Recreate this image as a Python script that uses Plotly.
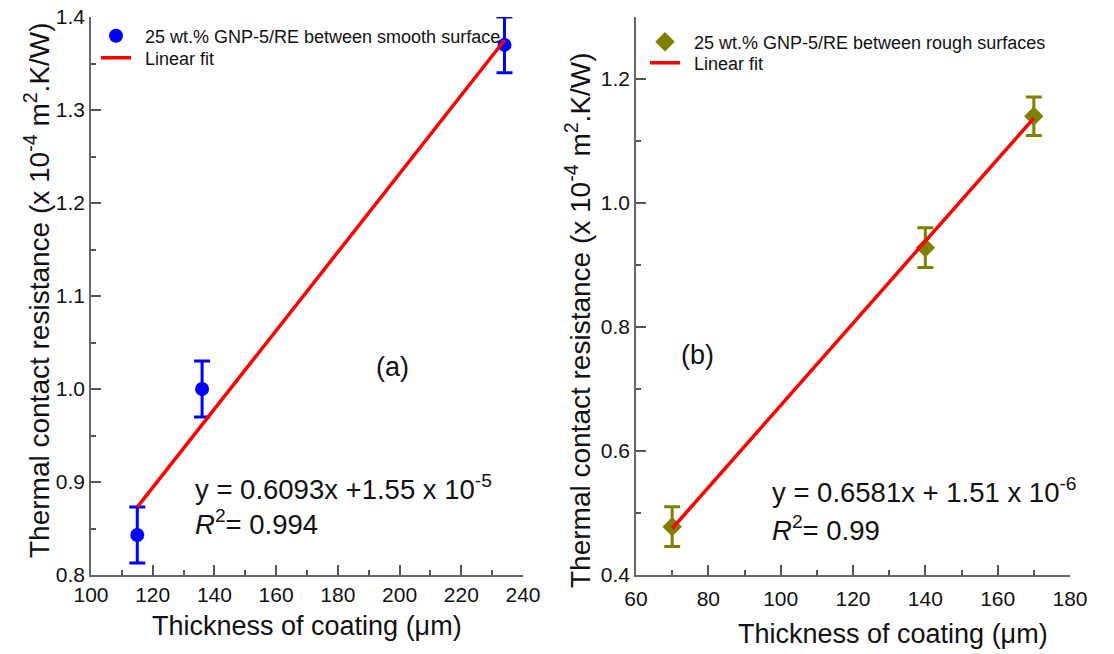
import plotly.graph_objects as go

W, H = 1114, 654

# Panel (a): smooth surfaces
a_x = [115, 136, 234]
a_y = [0.843, 1.000, 1.370]
a_err = [0.030, 0.030, 0.030]
a_fit_x = [115, 234]
a_fit_y = [0.873, 1.375]

# Panel (b): rough surfaces
b_x = [70, 140, 170]
b_y = [0.478, 0.928, 1.140]
b_err = [0.032, 0.032, 0.031]
b_fit_x = [70, 170]
b_fit_y = [0.475, 1.137]

a_name = "25 wt.% GNP-5/RE between smooth surface"
b_name = "25 wt.% GNP-5/RE between rough surfaces"
fit_name = "Linear fit"
ytitle = "Thermal contact resistance (x 10<sup>-4</sup> m<sup>2</sup>.K/W)"
xtitle = "Thickness of coating (\u03bcm)"

FONT = "Liberation Sans, Arial, sans-serif"
PAD = "\u2002"  # en space: gap between legend symbol and text

def px(x):
    return x / W

def py(y):
    return 1 - y / H

fig = go.Figure()

fig.add_trace(go.Scatter(
    x=a_x, y=a_y, mode="markers", name=PAD + a_name,
    marker=dict(color="#0000FF", size=14, symbol="circle"),
    error_y=dict(type="data", array=a_err, color="#0000FF", thickness=3, width=8),
    xaxis="x", yaxis="y", legend="legend", cliponaxis=False,
))
fig.add_trace(go.Scatter(
    x=a_fit_x, y=a_fit_y, mode="lines", name=PAD + fit_name,
    line=dict(color="#FF0000", width=3.5),
    xaxis="x", yaxis="y", legend="legend2", cliponaxis=False,
))
fig.add_trace(go.Scatter(
    x=b_x, y=b_y, mode="markers", name=PAD + b_name,
    marker=dict(color="#808000", size=15, symbol="diamond"),
    error_y=dict(type="data", array=b_err, color="#808000", thickness=3, width=8),
    xaxis="x2", yaxis="y2", legend="legend3", cliponaxis=False,
))
fig.add_trace(go.Scatter(
    x=b_fit_x, y=b_fit_y, mode="lines", name=PAD + fit_name,
    line=dict(color="#FF0000", width=3.5),
    xaxis="x2", yaxis="y2", legend="legend4", cliponaxis=False,
))

axis_common = dict(
    showline=True, linecolor="#666666", linewidth=1.5,
    ticks="inside", ticklen=10, tickwidth=1.5, tickcolor="#555555",
    showgrid=False, zeroline=False, mirror=False, automargin=False,
    tickfont=dict(family=FONT, size=21, color="#111111"),
)

ybot, ytop = py(575), py(17)

def leg(x, y):
    return dict(x=px(x), y=py(y), xanchor="left", yanchor="middle",
                bgcolor="rgba(0,0,0,0)", borderwidth=0,
                font=dict(family=FONT, size=18, color="#111111"),
                tracegroupgap=0, itemwidth=30)

fig.update_layout(
    width=W, height=H,
    margin=dict(l=0, r=0, t=0, b=0, autoexpand=False),
    paper_bgcolor="white", plot_bgcolor="white",
    font=dict(family=FONT, color="#111111"),
    xaxis=dict(domain=[px(91), px(523)], range=[100, 240], dtick=20,
               minor=dict(ticks="inside", ticklen=5, dtick=10, tickcolor="#555555", tickwidth=1.5),
               anchor="y", **axis_common),
    yaxis=dict(domain=[ybot, ytop], range=[0.8, 1.4], dtick=0.1, tickformat=".1f",
               minor=dict(ticks="inside", ticklen=5, dtick=0.05, tickcolor="#555555", tickwidth=1.5),
               anchor="x", **axis_common),
    xaxis2=dict(domain=[px(636), px(1070)], range=[60, 180], dtick=20,
                minor=dict(ticks="inside", ticklen=5, dtick=10, tickcolor="#555555", tickwidth=1.5),
                anchor="y2", ticklabelstandoff=4, **axis_common),
    yaxis2=dict(domain=[ybot, ytop], range=[0.4, 1.3], dtick=0.2, tickformat=".1f",
                minor=dict(ticks="inside", ticklen=5, dtick=0.1, tickcolor="#555555", tickwidth=1.5),
                anchor="x2", **axis_common),
    legend=leg(96, 36),
    legend2=leg(96, 58),
    legend3=leg(645, 42),
    legend4=leg(645, 63),
    showlegend=True,
)

ann = []
def add(text, x, y, size, xanchor="center", angle=0):
    ann.append(dict(text=text, x=px(x), y=py(y), xref="paper", yref="paper",
                    xanchor=xanchor, yanchor="middle", showarrow=False, textangle=angle,
                    font=dict(family=FONT, size=size, color="#111111")))

add(ytitle, 37, 290, 28, angle=-90)
add(ytitle, 578, 320, 28, angle=-90)
add(xtitle, 307, 626, 27)
add(xtitle, 893, 634, 27)
add("(a)", 392, 367, 27)
add("(b)", 697, 355, 27)
add("y = 0.6093x +1.55 x 10<sup>-5</sup>", 193, 487, 27.5, xanchor="left")
add("<i>R</i><sup>2</sup>= 0.994", 193, 522, 27.5, xanchor="left")
add("y = 0.6581x + 1.51 x 10<sup>-6</sup>", 770, 490, 27.5, xanchor="left")
add("<i>R</i><sup>2</sup>= 0.99", 770, 528, 27.5, xanchor="left")
fig.update_layout(annotations=ann)

fig.write_html("out.html", config={"displayModeBar": False},
               post_script="document.body.style.margin='0px';")
